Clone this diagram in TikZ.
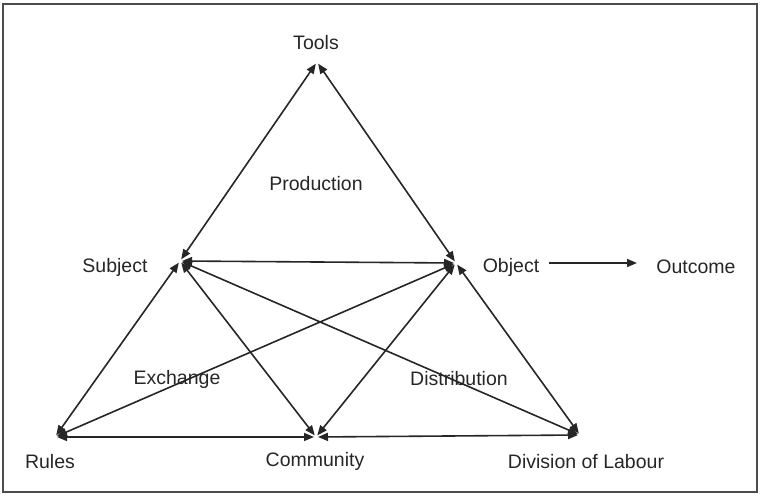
\documentclass[tikz,border=0pt]{standalone}
\usepackage{fontspec}
\setmainfont{Liberation Sans}
\usetikzlibrary{arrows.meta}
\tikzset{
  lbl/.style={font=\fontsize{19.5}{23}\selectfont, inner sep=0pt, text=black!85},
  link/.style={line width=1.6pt, draw=black!85, {Triangle[length=10pt,width=8pt]}-{Triangle[length=10pt,width=8pt]}, shorten <=2pt, shorten >=2pt},
  onelink/.style={line width=1.6pt, draw=black!85, -{Triangle[length=10pt,width=8pt]}},
  frame/.style={draw=black!70, line width=2pt}
}
\begin{document}
\begin{tikzpicture}[x=1pt,y=-1pt]
\useasboundingbox (0,0) rectangle (764,498);
\draw[frame] (3,4) rectangle (757,492);
% vertex points
\coordinate (T) at (317,62);
\coordinate (S) at (180,261);
\coordinate (O) at (456,263);
\coordinate (R) at (55,437);
\coordinate (C) at (316,437);
\coordinate (D) at (580,435);
% labels
\node[lbl] (tools) at (316,43) {Tools};
\node[lbl] (prod) at (316,184) {Production};
\node[lbl] (subj) at (115,267) {Subject};
\node[lbl] (obj) at (511,267) {Object};
\node[lbl] (out) at (696,267) {Outcome};
\node[lbl] (exch) at (177,379) {Exchange};
\node[lbl] (dist) at (459,379) {Distribution};
\node[lbl] (rules) at (50,462) {Rules};
\node[lbl] (comm) at (315,461) {Community};
\node[lbl] (div) at (586,462) {Division of Labour};
% connectors
\draw[link] (T) -- (S);
\draw[link] (T) -- (O);
\draw[link] (S) -- (O);
\draw[link] (S) -- (R);
\draw[link] (S) -- (C);
\draw[link] (S) -- (D);
\draw[link] (O) -- (R);
\draw[link] (O) -- (C);
\draw[link] (O) -- (D);
\draw[link] (R) -- (C);
\draw[link] (C) -- (D);
\coordinate (oa) at (549,263);
\coordinate (ob) at (637,263);
\draw[onelink] (oa) -- (ob);
\end{tikzpicture}
\end{document}
